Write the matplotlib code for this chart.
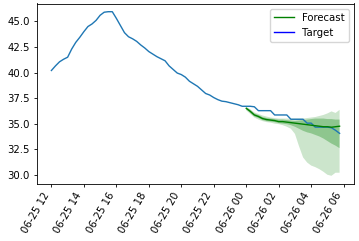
import numpy as np
import pandas as pd
import matplotlib
matplotlib.use("Agg")
import matplotlib.pyplot as plt
import matplotlib.dates as mdates
from matplotlib.lines import Line2D
from matplotlib.ticker import MultipleLocator, FormatStrFormatter

# target series, 15 min steps from 06-25 12:00 to 06-26 05:45
start = "2023-06-25 12:00"
freq = "15min"
target = [40.2, 40.65, 41.05, 41.3, 41.5, 42.3, 42.95, 43.45,
          44.0, 44.5, 44.75, 45.1, 45.6, 45.9, 45.95, 45.95,
          45.3, 44.6, 43.9, 43.5, 43.3, 43.05, 42.7, 42.4,
          42.05, 41.8, 41.55, 41.35, 41.15, 40.65, 40.3, 39.95,
          39.8, 39.55, 39.15, 38.9, 38.65, 38.3, 37.95, 37.8,
          37.55, 37.35, 37.2, 37.15, 37.05, 36.95, 36.85, 36.7,
          36.7, 36.7, 36.65, 36.27, 36.27, 36.27, 36.27, 35.85,
          35.85, 35.85, 35.85, 35.43, 35.43, 35.43, 35.43, 35.05,
          35.05, 34.66, 34.66, 34.66, 34.66, 34.6, 34.35, 34.05]

# forecast from 06-26 00:00 (24 steps)
fc_start = "2023-06-26 00:00"
median = [36.5, 36.2, 35.85, 35.7, 35.5, 35.4, 35.35, 35.3,
          35.2, 35.2, 35.15, 35.1, 35.05, 35.0, 34.95, 34.9,
          34.85, 34.8, 34.75, 34.7, 34.7, 34.65, 34.7, 34.75]
p25 = [36.4, 36.05, 35.7, 35.55, 35.35, 35.25, 35.2, 35.15,
       35.05, 35.0, 34.95, 34.85, 34.7, 34.5, 34.3, 34.15,
       34.05, 33.9, 33.75, 33.55, 33.3, 33.05, 32.85, 32.6]
p75 = [36.6, 36.35, 36.0, 35.85, 35.65, 35.55, 35.5, 35.45,
       35.4, 35.4, 35.35, 35.3, 35.25, 35.3, 35.35, 35.4,
       35.45, 35.5, 35.5, 35.5, 35.45, 35.45, 35.4, 35.4]
p05 = [36.3, 35.95, 35.6, 35.4, 35.25, 35.15, 35.1, 35.0,
       34.95, 34.85, 34.7, 34.5, 34.0, 32.8, 31.7, 31.2,
       30.9, 30.75, 30.55, 30.3, 30.0, 29.9, 30.2, 30.2]
p95 = [36.65, 36.4, 36.1, 35.95, 35.8, 35.7, 35.6, 35.55,
       35.5, 35.5, 35.5, 35.5, 35.5, 35.5, 35.5, 35.55,
       35.6, 35.65, 35.75, 35.85, 36.0, 36.2, 36.05, 36.35]

idx = pd.date_range(start, periods=len(target), freq=freq)
fc_idx = pd.date_range(fc_start, periods=len(median), freq=freq)

fs = 7.3
fig = plt.figure(figsize=(3.59, 2.41), dpi=100)
ax = fig.add_subplot(111)
fig.subplots_adjust(left=37/359, right=354/359, top=1-3.5/241, bottom=1-184/241)

ax.plot(idx, target, color="C0", lw=1.0)
ax.fill_between(fc_idx, p05, p95, facecolor="g", alpha=0.2, lw=0)
ax.fill_between(fc_idx, p25, p75, facecolor="g", alpha=0.3, lw=0)
ax.plot(fc_idx, median, color="g", lw=1.0)

ax.xaxis.set_major_locator(mdates.HourLocator(byhour=range(0, 24, 2)))
ax.xaxis.set_major_formatter(mdates.DateFormatter("%m-%d %H"))
ax.yaxis.set_major_locator(MultipleLocator(2.5))
ax.yaxis.set_major_formatter(FormatStrFormatter("%.1f"))
plt.setp(ax.get_xticklabels(), rotation=60, ha="right", fontsize=fs)
plt.setp(ax.get_yticklabels(), fontsize=fs)
ax.tick_params(length=2.5, width=0.6, pad=2.5)
for s in ax.spines.values():
    s.set_linewidth(0.6)

handles = [Line2D([], [], color="g", lw=1.0), Line2D([], [], color="b", lw=1.0)]
ax.legend(handles, ["Forecast", "Target"], loc="upper right", fontsize=fs)

fig.savefig("out.png", dpi=100)
